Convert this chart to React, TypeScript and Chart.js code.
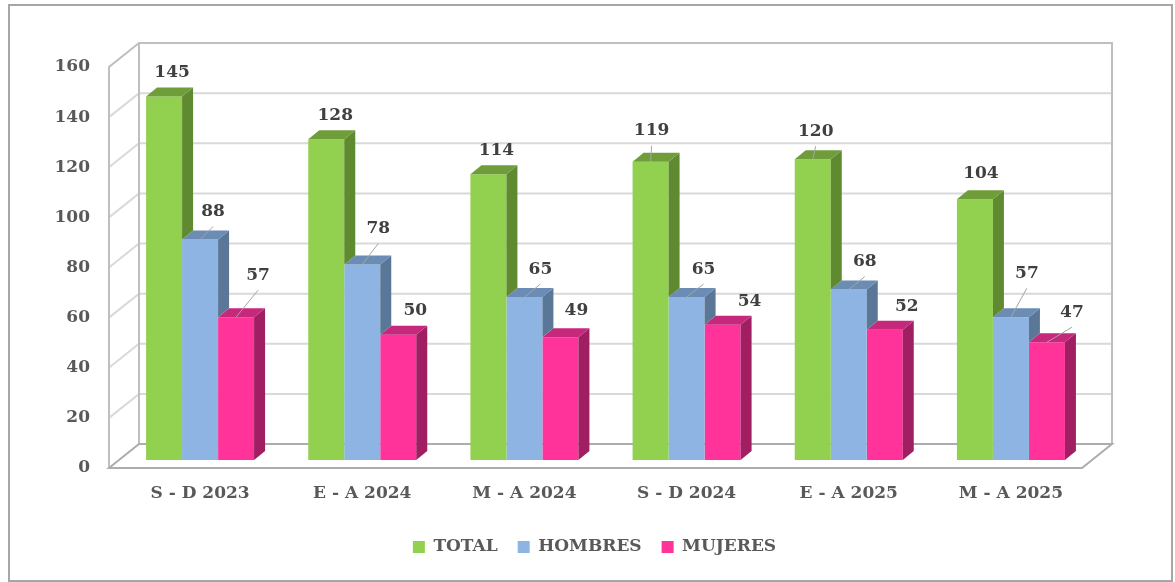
import React, { useEffect, useRef } from 'react';
import { Chart, registerables } from 'chart.js';

Chart.register(...registerables);

const categories = ['S - D 2023', 'E - A 2024', 'M - A 2024', 'S - D 2024', 'E - A 2025', 'M - A 2025'];
const seriesNames = ['TOTAL', 'HOMBRES', 'MUJERES'];
const totalValues = [145, 128, 114, 119, 120, 104];
const hombresValues = [88, 78, 65, 65, 68, 57];
const mujeresValues = [57, 50, 49, 54, 52, 47];
const yMin = 0;
const yMax = 160;
const yStep = 20;

const frontColors = ['#92D050', '#8DB4E2', '#FF3399'];
const sideColors = ['#5F8A2F', '#5A7797', '#A01E62'];
const topColors = ['#6E9D3A', '#6B8CB5', '#C6287C'];

// label nudges (dx, dy from bar front-top centre, leader flag)
const labelNudges = [
  [[8, -24, 0], [9, -24, 0], [8, -24, 0], [1, -31, 1], [3, -28, 1], [6, -26, 0]],
  [[13, -28, 1], [16, -36, 1], [16, -28, 1], [17, -28, 1], [16, -28, 1], [16, -44, 1]],
  [[22, -42, 1], [17, -24, 0], [16, -27, 0], [27, -23, 0], [22, -23, 0], [25, -30, 1]],
];

const FONT = '"DejaVu Serif", serif';
const BAR_DX = 11, BAR_DY = -9;
const FRONT_DX = -10, FRONT_DY = 8;
const BACK_DX = 20, BACK_DY = -16;

const line = (ctx: CanvasRenderingContext2D, pts: number[][]) => {
  ctx.beginPath();
  ctx.moveTo(pts[0][0], pts[0][1]);
  for (let i = 1; i < pts.length; i++) ctx.lineTo(pts[i][0], pts[i][1]);
  ctx.stroke();
};
const poly = (ctx: CanvasRenderingContext2D, pts: number[][], fill: string) => {
  ctx.beginPath();
  ctx.moveTo(pts[0][0], pts[0][1]);
  for (let i = 1; i < pts.length; i++) ctx.lineTo(pts[i][0], pts[i][1]);
  ctx.closePath();
  ctx.fillStyle = fill;
  ctx.fill();
};

const threeD = {
  id: 'threeD',
  beforeDraw(chart: any) {
    const ctx = chart.ctx as CanvasRenderingContext2D;
    ctx.save();
    ctx.fillStyle = '#FFFFFF';
    ctx.fillRect(0, 0, chart.width, chart.height);
    ctx.strokeStyle = '#A6A6A6';
    ctx.lineWidth = 2;
    ctx.strokeRect(9, 5, 1163, 576);
    ctx.restore();
  },
  beforeDatasetsDraw(chart: any) {
    const ctx = chart.ctx as CanvasRenderingContext2D;
    const { left, right } = chart.chartArea;
    const ys = chart.scales.y;
    const y0 = ys.getPixelForValue(yMin);
    const yT = ys.getPixelForValue(yMax);
    ctx.save();
    ctx.lineWidth = 2;
    ctx.strokeStyle = '#D9D9D9';
    for (let v = yMin + yStep; v < yMax; v += yStep) {
      const y = ys.getPixelForValue(v);
      line(ctx, [[left + FRONT_DX, y + FRONT_DY], [left + BACK_DX, y + BACK_DY], [right + BACK_DX, y + BACK_DY]]);
    }
    ctx.strokeStyle = '#BFBFBF';
    line(ctx, [[left + FRONT_DX, y0 + FRONT_DY], [left + FRONT_DX, yT + FRONT_DY], [left + BACK_DX, yT + BACK_DY], [right + BACK_DX, yT + BACK_DY], [right + BACK_DX, y0 + BACK_DY]]);
    line(ctx, [[left + BACK_DX, yT + BACK_DY], [left + BACK_DX, y0 + BACK_DY]]);
    ctx.strokeStyle = '#ADADAD';
    ctx.beginPath();
    ctx.moveTo(left + FRONT_DX, y0 + FRONT_DY);
    ctx.lineTo(right + FRONT_DX, y0 + FRONT_DY);
    ctx.lineTo(right + BACK_DX, y0 + BACK_DY);
    ctx.lineTo(left + BACK_DX, y0 + BACK_DY);
    ctx.closePath();
    ctx.stroke();
    ctx.restore();
  },
  afterDatasetDraw(chart: any, args: any) {
    const ctx = chart.ctx as CanvasRenderingContext2D;
    const di = args.index;
    const meta = chart.getDatasetMeta(di);
    const nextMeta = di + 1 < chart.data.datasets.length ? chart.getDatasetMeta(di + 1) : null;
    ctx.save();
    meta.data.forEach((bar: any, i: number) => {
      const { x, y, base, width } = bar.getProps(['x', 'y', 'base', 'width'], true);
      const l = x - width / 2;
      const r = x + width / 2;
      // the neighbouring bar on the right (drawn earlier) hides the lower part of this side face
      let sideBottom = base;
      if (nextMeta && nextMeta.data[i]) {
        const ny = nextMeta.data[i].getProps(['y'], true).y;
        sideBottom = Math.min(base, ny);
      }
      if (sideBottom > y) {
        poly(ctx, [[r, y], [r + BAR_DX, y + BAR_DY], [r + BAR_DX, sideBottom + BAR_DY], [r, sideBottom]], sideColors[di]);
      }
      poly(ctx, [[l, y], [l + BAR_DX, y + BAR_DY], [r + BAR_DX, y + BAR_DY], [r, y]], topColors[di]);
    });
    ctx.restore();
  },
  afterDatasetsDraw(chart: any) {
    const ctx = chart.ctx as CanvasRenderingContext2D;
    ctx.save();
    ctx.font = `bold 17px ${FONT}`;
    ctx.textAlign = 'center';
    ctx.textBaseline = 'middle';
    chart.data.datasets.forEach((ds: any, di: number) => {
      const meta = chart.getDatasetMeta(di);
      meta.data.forEach((bar: any, i: number) => {
        const { x, y } = bar.getProps(['x', 'y'], true);
        const [dx, dy, lead] = labelNudges[di][i];
        const lx = x + dx;
        const ly = y + dy;
        if (lead) {
          ctx.strokeStyle = '#A6A6A6';
          ctx.lineWidth = 1;
          line(ctx, [[x, y], [lx, ly + 15]]);
        }
        ctx.fillStyle = '#404040';
        ctx.fillText(String(ds.data[i]), lx, ly);
      });
    });
    ctx.restore();
  },
};

export default function App() {
  const ref = useRef<HTMLCanvasElement>(null);
  useEffect(() => {
    if (!ref.current) return;
    const values = [totalValues, hombresValues, mujeresValues];
    const chart = new Chart(ref.current, {
      type: 'bar',
      data: {
        labels: categories,
        datasets: seriesNames.map((name, i) => ({
          label: name,
          data: values[i],
          backgroundColor: frontColors[i],
          borderWidth: 0,
          categoryPercentage: 0.666,
          barPercentage: 1,
        })),
      },
      options: {
        responsive: false,
        animation: false,
        events: [],
        layout: { padding: { top: 59, right: 0, left: 14, bottom: 16.5 } },
        plugins: {
          tooltip: { enabled: false },
          legend: {
            position: 'bottom',
            labels: {
              boxWidth: 12,
              boxHeight: 12,
              padding: 20,
              color: '#595959',
              font: { family: FONT, size: 17, weight: 'bold' },
            },
          },
        },
        scales: {
          x: {
            grid: { display: false },
            border: { display: false },
            ticks: { color: '#595959', padding: 15, font: { family: FONT, size: 17, weight: 'bold' } },
            afterFit: (s: any) => { s.height = 58.5; },
          },
          y: {
            min: yMin,
            max: yMax,
            grid: { display: false, drawTicks: false },
            border: { display: false },
            ticks: { stepSize: yStep, color: '#595959', padding: 29, labelOffset: 8, font: { family: FONT, size: 17, weight: 'bold' } },
            afterFit: (s: any) => { s.width = 105; },
          },
          yRight: {
            position: 'right',
            min: yMin,
            max: yMax,
            grid: { display: false, drawTicks: false },
            border: { display: false },
            ticks: { display: false },
            afterFit: (s: any) => { s.width = 83; },
          },
        },
      },
      plugins: [threeD],
    });
    return () => chart.destroy();
  }, []);
  return (
    <div style={{ position: 'absolute', left: 0, top: 0, width: 1175, height: 582 }}>
      <canvas ref={ref} width={1175} height={582} style={{ display: 'block' }} />
    </div>
  );
}
